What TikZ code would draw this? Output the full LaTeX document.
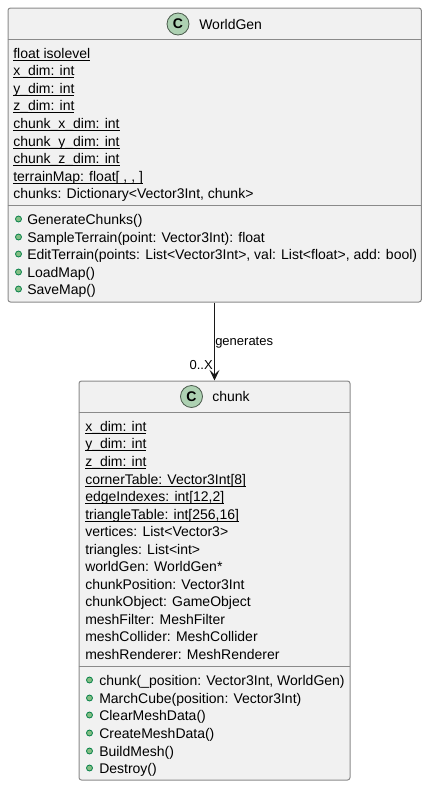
\documentclass[tikz,border=0pt]{standalone}
\usepackage{fontspec}
\usetikzlibrary{arrows.meta}
\setmainfont{Liberation Sans}
\definecolor{boxfill}{HTML}{F1F1F1}
\definecolor{boxline}{HTML}{8A8A8A}
\definecolor{arrowline}{HTML}{181818}
\definecolor{spotfill}{HTML}{ADD1B2}
\definecolor{spotline}{HTML}{4A5A4C}
\definecolor{dotfill}{HTML}{84BE84}
\definecolor{dotline}{HTML}{038048}
\newcommand{\ulrow}[1]{\underline{\smash{#1}}}
\tikzset{
	classbox/.style={draw=boxline,fill=boxfill,line width=0.75pt,rounded corners=1.875pt,inner sep=0pt,anchor=north west},
	divider/.style={draw=boxline,line width=0.75pt},
	rowtext/.style={inner sep=0pt,anchor=base west,font=\fontsize{10.5pt}{12pt}\selectfont},
	labeltext/.style={inner sep=0pt,font=\fontsize{9.75pt}{12pt}\selectfont},
	spot/.style={circle,draw=spotline,fill=spotfill,line width=0.6pt,minimum size=16.5pt,inner sep=0pt,font=\fontsize{10.5pt}{12pt}\selectfont\bfseries},
	methoddot/.style={circle,draw=dotline,fill=dotfill,line width=0.6pt,minimum size=4.5pt,inner sep=0pt},
}
\begin{document}
\begin{tikzpicture}[x=0.75pt,y=-0.75pt]
	\useasboundingbox (0,0) rectangle (427,786);
	% WorldGen
	\node[classbox,minimum width=310pt,minimum height=220.5pt] (worldgen) at (7.5,7.5) {};
	\draw[divider] (7.5,39.5) -- (421,39.5);
	\draw[divider] (7.5,205.5) -- (421,205.5);
	\node[spot] (worldgenspot) at (178,24) {C};
	\node[rowtext] (worldgenname) at (199,29) {WorldGen};
	\foreach \y/\t [count=\i] in {
			58/{\ulrow{float isolevel}},
			75.5/{\ulrow{x\_dim: int}},
			93/{\ulrow{y\_dim: int}},
			110.5/{\ulrow{z\_dim: int}},
			128/{\ulrow{chunk\_x\_dim: int}},
			146/{\ulrow{chunk\_y\_dim: int}},
			163/{\ulrow{chunk\_z\_dim: int}},
			181/{\ulrow{terrainMap: float[ , , ]}},
			198/{chunks: Dictionary<Vector3Int, chunk>}}
		\node[rowtext] (worldgenattr\i) at (13,\y) {\t};
	\foreach \y/\t [count=\i] in {
			224/{GenerateChunks()},
			242/{SampleTerrain(point: Vector3Int): float},
			259/{EditTerrain(points: List<Vector3Int>, val: List<float>, add: bool)},
			277/{LoadMap()},
			294/{SaveMap()}}{
		\node[rowtext] (worldgenop\i) at (27,\y) {\t};
		\node[methoddot] (worldgendot\i) at (18.5,\y-5) {};
	}
	% chunk
	\node[classbox,minimum width=203.25pt,minimum height=299.25pt] (chunk) at (78.5,380.5) {};
	\draw[divider] (78.5,412.5) -- (349.5,412.5);
	\draw[divider] (78.5,666.5) -- (349.5,666.5);
	\node[spot] (chunkspot) at (191.5,396.5) {C};
	\node[rowtext] (chunkname) at (212,401.5) {chunk};
	\foreach \y/\t [count=\i] in {
			431/{\ulrow{x\_dim: int}},
			448.5/{\ulrow{y\_dim: int}},
			466/{\ulrow{z\_dim: int}},
			484/{\ulrow{cornerTable: Vector3Int[8]}},
			501/{\ulrow{edgeIndexes: int[12,2]}},
			519/{\ulrow{triangleTable: int[256,16]}},
			536/{vertices: List<Vector3>},
			554/{triangles: List<int>},
			571/{worldGen: WorldGen*},
			589/{chunkPosition: Vector3Int},
			606/{chunkObject: GameObject},
			624/{meshFilter: MeshFilter},
			641/{meshCollider: MeshCollider},
			659/{meshRenderer: MeshRenderer}}
		\node[rowtext] (chunkattr\i) at (85,\y) {\t};
	\foreach \y/\t [count=\i] in {
			685/{chunk(\_position: Vector3Int, WorldGen)},
			703/{MarchCube(position: Vector3Int)},
			720/{ClearMeshData()},
			738/{CreateMeshData()},
			756/{BuildMesh()},
			773/{Destroy()}}{
		\node[rowtext] (chunkop\i) at (99,\y) {\t};
		\node[methoddot] (chunkdot\i) at (89.5,\y-5) {};
	}
	% generates
	\draw[arrowline,line width=0.75pt,-{Stealth[length=8pt,width=7.5pt,inset=3.5pt]}] (worldgen.south -| 214.5,0) -- (chunk.north -| 214.5,0);
	\node[labeltext,anchor=west] (generateslabel) at (215,343) {generates};
	\node[labeltext,anchor=east] (multiplicity) at (213,365) {0..X};
\end{tikzpicture}
\end{document}
